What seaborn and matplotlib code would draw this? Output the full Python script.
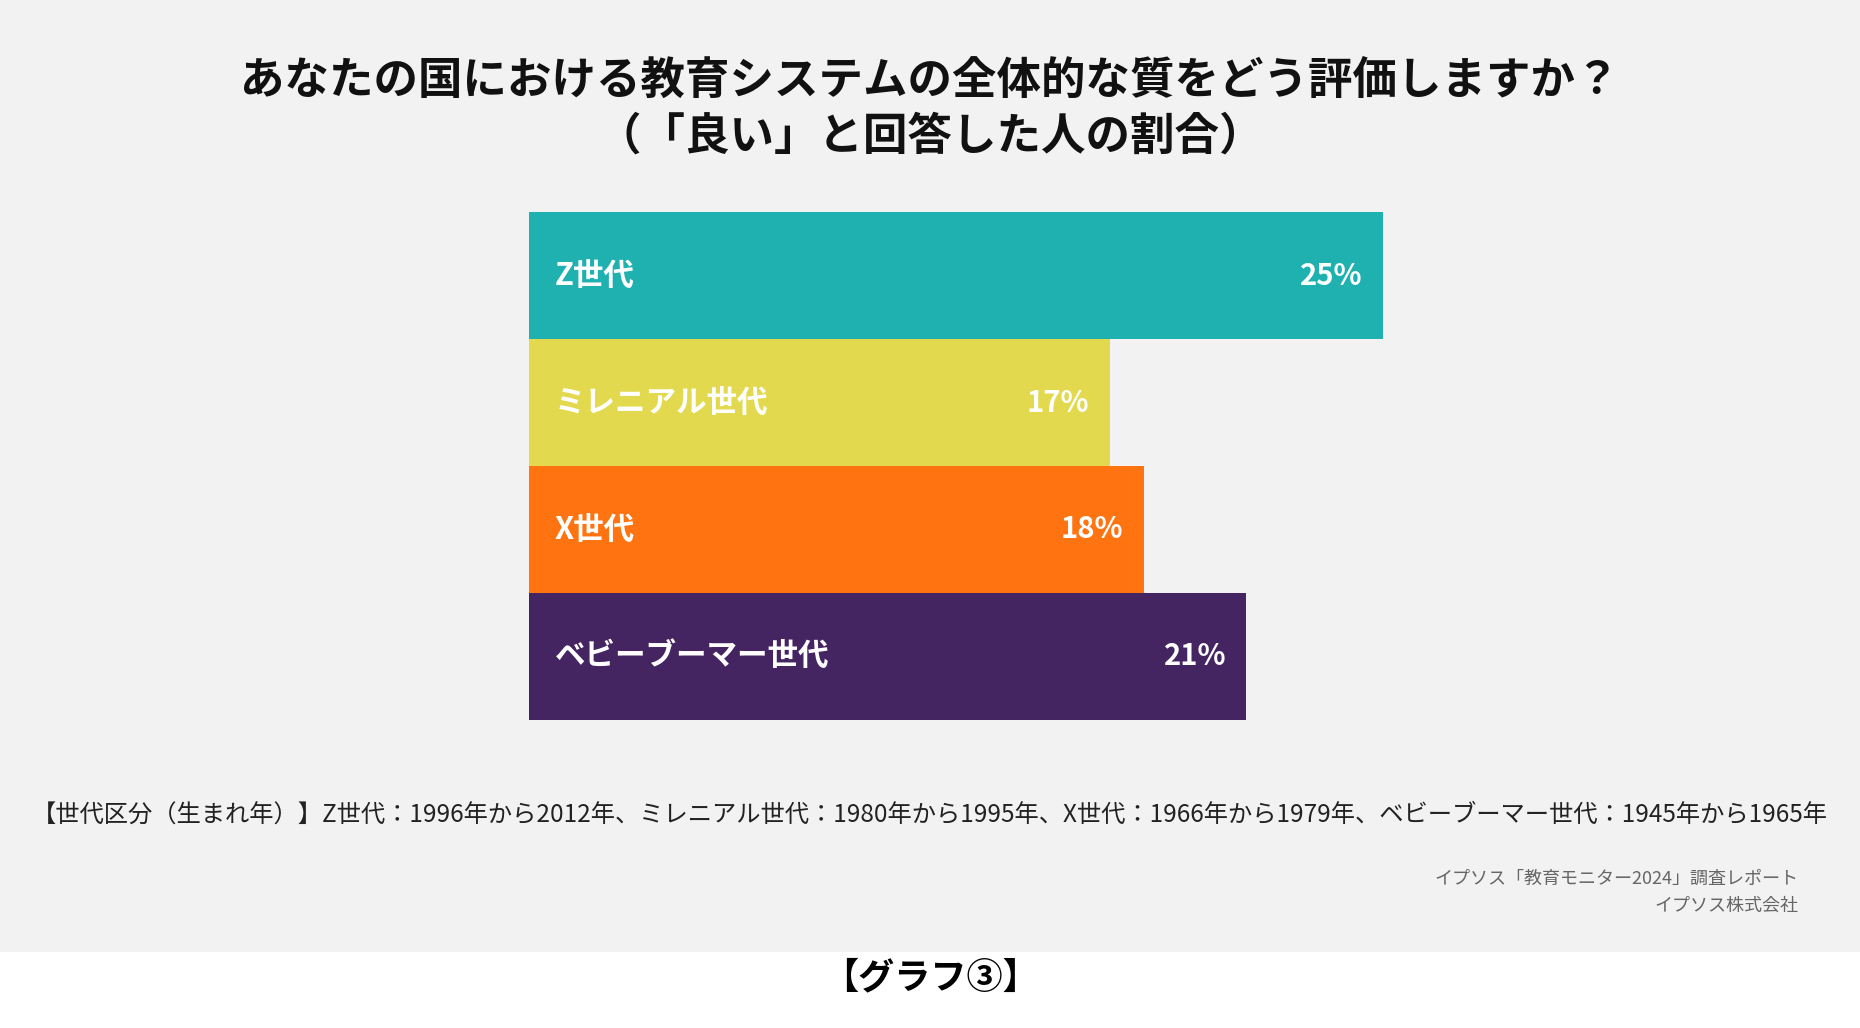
import matplotlib
matplotlib.use("Agg")
import matplotlib.pyplot as plt
import seaborn as sns
import pandas as pd
from matplotlib.patches import Rectangle

categories = ["Z世代", "ミレニアル世代", "X世代", "ベビーブーマー世代"]
values = [25, 17, 18, 21]
colors = ["#1fb0b0", "#e2d94f", "#ff7411", "#452462"]

FONT = "Noto Sans CJK JP"
W, H = 1860, 1028
fig = plt.figure(figsize=(W/100, H/100), dpi=100)
fig.patch.set_facecolor("white")
fig.add_artist(Rectangle((0, 1-803/867), 1, 803/867, transform=fig.transFigure,
                         facecolor="#f2f2f2", edgecolor="none", zorder=0))

ax = fig.add_axes([446/1568, 1-607/867, 720/1568, 428/867])
ax.set_facecolor("none")
df = pd.DataFrame({"cat": categories, "val": values})
sns.barplot(data=df, x="val", y="cat", hue="cat", palette=colors, width=1.0,
            legend=False, ax=ax, saturation=1)
ax.set_xlim(0, 25)
ax.set_ylim(3.5, -0.5)
ax.axis("off")
for i, (c, v) in enumerate(zip(categories, values)):
    ax.text(0.75, i, c, color="white", fontsize=22, fontweight="bold",
            fontfamily=FONT, va="center", ha="left")
    ax.text(v - 0.6, i, f"{v}%", color="white", fontsize=21, fontweight="bold",
            fontfamily=FONT, va="center", ha="right")

fig.text(0.5, 1-68/867, "あなたの国における教育システムの全体的な質をどう評価しますか？",
         ha="center", va="center", fontsize=32, fontweight="bold", fontfamily=FONT, color="#111")
fig.text(0.5, 1-115/867, "（「良い」と回答した人の割合）",
         ha="center", va="center", fontsize=32, fontweight="bold", fontfamily=FONT, color="#111")
fig.text(0.5, 1-687/867,
         "【世代区分（生まれ年）】Z世代：1996年から2012年、ミレニアル世代：1980年から1995年、X世代：1966年から1979年、ベビーブーマー世代：1945年から1965年",
         ha="center", va="center", fontsize=17.5, fontfamily=FONT, color="#222")
fig.text(1516/1568, 1-741/867, "イプソス「教育モニター2024」調査レポート",
         ha="right", va="center", fontsize=13, fontfamily=FONT, color="#666")
fig.text(1516/1568, 1-764/867, "イプソス株式会社",
         ha="right", va="center", fontsize=13, fontfamily=FONT, color="#666")
fig.text(0.5, 1-825/867, "【グラフ③】", ha="center", va="center", fontsize=26,
         fontweight="bold", fontfamily=FONT, color="#000")
fig.savefig("out.png", dpi=100)
